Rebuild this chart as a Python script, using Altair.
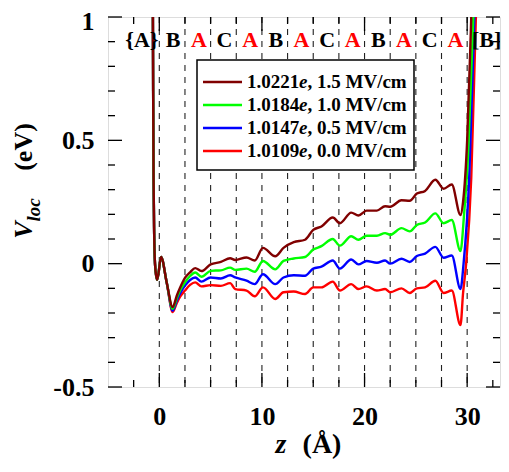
import altair as alt
import pandas as pd

# ---------------- data ----------------
# shared steep left edge (all four curves coincide here)
z_left = [-0.64, -0.6, -0.56, -0.5, -0.42, -0.3, -0.2, 0.17, 0.72]
v_left = [1.2, 0.7, 0.35, 0.12, 0.0, -0.05, -0.065, 0.027, -0.076]

z_mid = [1.3, 1.7, 2.0, 2.5, 3.0, 3.5, 4.1, 5.0, 6.0, 6.9, 7.4, 8.5, 9.3, 10.1,
         11.3, 12.1, 13.1, 14.2, 15.0, 15.8, 16.9, 17.6, 18.7, 19.4, 20.2, 21.2,
         22.0, 22.5, 23.6, 24.4, 25.1, 25.9, 26.9, 27.7, 28.5, 29.35]

v_mid_15 = [-0.176, -0.13, -0.1, -0.058, -0.035, -0.018, -0.03, -0.003, 0.007, 0.022,
            0.015, 0.025, 0.013, 0.064, 0.03, 0.064, 0.087, 0.097, 0.137, 0.151,
            0.187, 0.164, 0.207, 0.195, 0.215, 0.215, 0.233, 0.231, 0.257, 0.255,
            0.284, 0.295, 0.34, 0.304, 0.321, 0.197]
v_mid_10 = [-0.183, -0.14, -0.111, -0.076, -0.05, -0.036, -0.053, -0.029, -0.027, -0.016,
            -0.025, -0.02, -0.033, 0.011, -0.023, 0.011, 0.021, 0.027, 0.057, 0.071,
            0.1, 0.073, 0.111, 0.097, 0.113, 0.113, 0.124, 0.117, 0.144, 0.131,
            0.157, 0.167, 0.204, 0.164, 0.177, 0.051]
v_mid_05 = [-0.19, -0.15, -0.123, -0.089, -0.066, -0.056, -0.073, -0.056, -0.06, -0.047,
            -0.056, -0.069, -0.083, -0.043, -0.083, -0.056, -0.047, -0.049, -0.02, -0.012,
            0.013, -0.02, 0.017, -0.003, 0.011, 0.004, 0.013, 0.0, 0.02, 0.007,
            0.031, 0.041, 0.068, 0.024, 0.033, -0.103]
v_mid_00 = [-0.196, -0.16, -0.136, -0.109, -0.086, -0.076, -0.092, -0.087, -0.09, -0.079,
            -0.103, -0.109, -0.132, -0.096, -0.143, -0.116, -0.113, -0.123, -0.096, -0.096,
            -0.073, -0.109, -0.083, -0.103, -0.092, -0.109, -0.103, -0.116, -0.1, -0.119,
            -0.1, -0.096, -0.069, -0.119, -0.109, -0.249]

z_right_15 = [29.6, 30.0, 30.4, 30.55]
v_right_15 = [0.25, 0.5, 1.0, 1.2]
z_right_10 = [29.7, 30.1, 30.6, 30.75]
v_right_10 = [0.2, 0.45, 1.0, 1.2]
z_right_05 = [29.65, 30.2, 30.7, 30.85]
v_right_05 = [0.0, 0.35, 1.0, 1.2]
z_right_00 = [29.6, 29.9, 30.4, 30.85, 31.0]
v_right_00 = [-0.12, 0.0, 0.35, 1.0, 1.2]

charges = ["1.0221", "1.0184", "1.0147", "1.0109"]
fields = ["1.5 MV/cm", "1.0 MV/cm", "0.5 MV/cm", "0.0 MV/cm"]
colors = ["#800000", "#00ff00", "#0000ff", "#ff0000"]

boundaries = [0, 2.5, 5, 7.5, 10, 12.5, 15, 17.5, 20, 22.5, 25, 27.5, 30]
layer_labels = ["{A}", "B", "A", "C", "A", "B", "A", "C", "A", "B", "A", "C", "A", "[B]"]
layer_label_z = [-1.7, 1.35, 3.85, 6.35, 8.85, 11.35, 13.85, 16.35, 18.85,
                 21.35, 23.85, 26.35, 28.85, 31.9]
layer_label_colors = ["black", "black", "red", "black", "red", "black", "red",
                      "black", "red", "black", "red", "black", "red", "black"]

x_major = [0, 10, 20, 30]
x_minor = [-2.5, 2.5, 5, 7.5, 12.5, 15, 17.5, 22.5, 25, 27.5, 32.5]
y_major = [-0.5, 0, 0.5, 1]
y_minor = [-0.4, -0.3, -0.2, -0.1, 0.1, 0.2, 0.3, 0.4, 0.6, 0.7, 0.8, 0.9]

# ---------------- layout ----------------
W, H = 392, 370
FONT = "Liberation Serif"
xs = alt.Scale(domain=[-5, 33.2], nice=False, zero=False)
ys = alt.Scale(domain=[-0.5, 1], nice=False, zero=False)

xaxis = alt.Axis(values=x_major, ticks=False, domain=False, grid=False, title=None,
                 labelFont=FONT, labelFontWeight="bold", labelFontSize=26,
                 labelColor="black", labelPadding=16, labelOverlap=False, labelFlush=False)
yaxis = alt.Axis(values=y_major, ticks=False, domain=False, grid=False, title=None,
                 labelFont=FONT, labelFontWeight="bold", labelFontSize=26,
                 labelColor="black", labelPadding=14, labelOverlap=False,
                 labelExpr="toString(datum.value)", labelFlush=False,
                 labelOffset={"condition": {"test": "datum.value == 1", "value": 4}, "value": 0})


def X(field):
    return alt.X(field, type="quantitative", scale=xs, axis=xaxis)


def Y(field):
    return alt.Y(field, type="quantitative", scale=ys, axis=yaxis)


layers = []
one = pd.DataFrame({"a": [0]})

# curves (red first, dark red on top)
series = [
    (z_right_00, v_mid_00, v_right_00, colors[3]),
    (z_right_05, v_mid_05, v_right_05, colors[2]),
    (z_right_10, v_mid_10, v_right_10, colors[1]),
    (z_right_15, v_mid_15, v_right_15, colors[0]),
]

# dashed layer boundaries
layers.append(
    alt.Chart(pd.DataFrame({"z": boundaries})).mark_rule(
        color="#222222", strokeWidth=1.1, strokeDash=[6, 6]
    ).encode(x=X("z"))
)

# legend box (white, hides dashed lines)
layers.append(
    alt.Chart(one).mark_rect(fill="white", stroke="black", strokeWidth=1.5).encode(
        x=alt.value(89), x2=alt.value(306), y=alt.value(43), y2=alt.value(153)
    )
)

for zr, vm, vr, c in series:
    df = pd.DataFrame({"z": z_left + z_mid + zr, "v": v_left + vm + vr})
    layers.append(
        alt.Chart(df).mark_line(color=c, strokeWidth=2.4, interpolate="monotone", clip=True).encode(
            x=X("z"), y=Y("v")
        )
    )

# inward ticks
tick_col = "black"
for vals, ln in ((y_major, 14), (y_minor, 7)):
    d = pd.DataFrame({"v": vals})
    layers.append(alt.Chart(d).mark_rule(color=tick_col, strokeWidth=1.3).encode(
        y=Y("v"), x=alt.value(0), x2=alt.value(ln)))
    layers.append(alt.Chart(d).mark_rule(color=tick_col, strokeWidth=1.3).encode(
        y=Y("v"), x=alt.value(W), x2=alt.value(W - ln)))
for vals, ln in ((x_major, 14), (x_minor, 7)):
    d = pd.DataFrame({"z": vals})
    layers.append(alt.Chart(d).mark_rule(color=tick_col, strokeWidth=1.3).encode(
        x=X("z"), y=alt.value(H), y2=alt.value(H - ln)))
    layers.append(alt.Chart(d).mark_rule(color=tick_col, strokeWidth=1.3).encode(
        x=X("z"), y=alt.value(0), y2=alt.value(ln)))

# stacking labels
lab_df = pd.DataFrame({"z": layer_label_z, "t": layer_labels, "c": layer_label_colors})
layers.append(
    alt.Chart(lab_df).mark_text(font=FONT, fontWeight="bold", fontSize=22, baseline="middle").encode(
        x=X("z"), y=alt.value(23), text="t:N",
        color=alt.Color("c:N", scale=None, legend=None),
    )
)

# legend rows
for i in range(4):
    yrow = 65 + 23 * i
    layers.append(alt.Chart(one).mark_rule(color=colors[i], strokeWidth=2.4).encode(
        x=alt.value(95), x2=alt.value(134), y=alt.value(yrow)))
    layers.append(alt.Chart(one).mark_text(
        font=FONT, fontWeight="bold", fontSize=19, align="left", baseline="middle",
        text=charges[i], color="black").encode(x=alt.value(139), y=alt.value(yrow)))
    layers.append(alt.Chart(one).mark_text(
        font=FONT, fontWeight="bold", fontStyle="italic", fontSize=19, align="left",
        baseline="middle", text="e", color="black", dx=52).encode(x=alt.value(139), y=alt.value(yrow)))
    layers.append(alt.Chart(one).mark_text(
        font=FONT, fontWeight="bold", fontSize=19, align="left", baseline="middle",
        text=", " + fields[i], color="black", dx=60.5).encode(x=alt.value(139), y=alt.value(yrow)))

# axis titles
layers.append(alt.Chart(one).mark_text(
    font=FONT, fontWeight="bold", fontStyle="italic", fontSize=28, align="center",
    baseline="alphabetic", text="z", color="black").encode(x=alt.value(173), y=alt.value(436)))
layers.append(alt.Chart(one).mark_text(
    font=FONT, fontWeight="bold", fontSize=28, align="center",
    baseline="alphabetic", text="(Å)", color="black").encode(x=alt.value(214), y=alt.value(436)))
layers.append(alt.Chart(one).mark_text(
    font=FONT, fontWeight="bold", fontStyle="italic", fontSize=26, align="center", angle=270,
    baseline="alphabetic", text="V", color="black").encode(x=alt.value(-76), y=alt.value(213)))
layers.append(alt.Chart(one).mark_text(
    font=FONT, fontWeight="bold", fontStyle="italic", fontSize=19, align="center", angle=270,
    baseline="alphabetic", text="loc", color="black").encode(x=alt.value(-68), y=alt.value(193)))
layers.append(alt.Chart(one).mark_text(
    font=FONT, fontWeight="bold", fontSize=26, align="center", angle=270,
    baseline="alphabetic", text="(eV)", color="black").encode(x=alt.value(-76), y=alt.value(130)))

chart = alt.layer(*layers).properties(
    width=W, height=H,
    autosize=alt.AutoSizeParams(type="none"),
    padding={"left": 100, "top": 9, "right": 1, "bottom": 80},
).configure_view(stroke="black", strokeWidth=1.5).configure(background="white")

chart.save("out.html", embed_options={"renderer": "svg", "actions": False})
